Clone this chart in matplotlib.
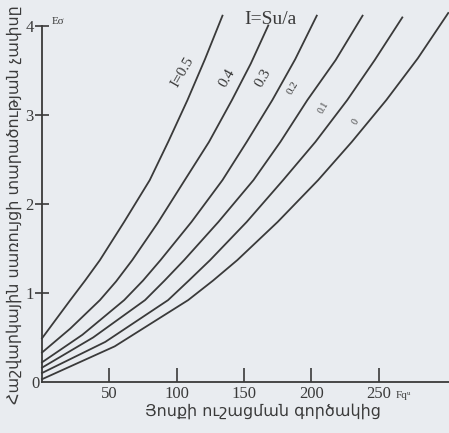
import matplotlib.pyplot as plt

# ---- data ----
labels = ["I=0.5", "0.4", "0.3", "0.2", "0.1", "0"]
x_05 = [0, 10, 21, 32, 43, 61, 80, 94, 108, 121, 134]
y_05 = [0.49, 0.695, 0.92, 1.14, 1.37, 1.80, 2.27, 2.71, 3.17, 3.63, 4.12]
x_04 = [0, 21, 43, 55, 67, 86, 106, 124, 141, 155, 168]
y_04 = [0.33, 0.60, 0.92, 1.13, 1.37, 1.79, 2.27, 2.70, 3.17, 3.58, 4.01]
x_03 = [0, 30, 61, 75, 88, 111, 134, 152, 171, 188, 204]
y_03 = [0.22, 0.53, 0.92, 1.14, 1.37, 1.80, 2.27, 2.70, 3.17, 3.63, 4.12]
x_02 = [0, 38, 76.5, 91, 105.5, 131, 157, 177, 197, 218, 238]
y_02 = [0.16, 0.50, 0.92, 1.14, 1.37, 1.80, 2.27, 2.70, 3.17, 3.62, 4.12]
x_01 = [0, 47, 93.6, 109, 124.8, 152, 179, 203, 226.6, 247, 267.5]
y_01 = [0.10, 0.45, 0.92, 1.14, 1.37, 1.80, 2.27, 2.70, 3.17, 3.62, 4.10]
x_00 = [0, 54, 108.5, 127, 145, 175, 205, 230, 255.6, 279, 301.6]
y_00 = [0.03, 0.40, 0.92, 1.14, 1.37, 1.80, 2.27, 2.70, 3.17, 3.64, 4.15]
xticks = [50, 100, 150, 200, 250]
yticks = [1, 2, 3, 4]

curves = [(x_05, y_05), (x_04, y_04), (x_03, y_03), (x_02, y_02), (x_01, y_01), (x_00, y_00)]

bg = "#e9ecf0"
ink = "#3a3a3a"
serif = "Liberation Serif"

fig = plt.figure(figsize=(4.49, 4.33), dpi=100, facecolor=bg)
ax = fig.add_axes([0.0935, 0.118, 0.906, 0.852])
ax.set_facecolor(bg)

for xs, ys in curves:
    ax.plot(xs, ys, color=ink, lw=1.3, clip_on=False, solid_joinstyle="round")

ax.set_xlim(0, 302)
ax.set_ylim(0, 4.15)
for s in ["top", "right"]:
    ax.spines[s].set_visible(False)
ax.spines["left"].set_bounds(0, 4)
ax.spines["bottom"].set_bounds(0, 302)
for s in ["left", "bottom"]:
    ax.spines[s].set_color(ink)
    ax.spines[s].set_linewidth(1.3)

ax.set_xticks(xticks)
ax.set_xticklabels([str(t) for t in xticks], fontfamily=serif, fontsize=12, color=ink)
ax.set_yticks(yticks)
ax.set_yticklabels([str(t) for t in yticks], fontfamily=serif, fontsize=12, color=ink)
ax.tick_params(axis="x", direction="in", length=10, width=1.2, color=ink, pad=3)
ax.tick_params(axis="y", direction="inout", length=10, width=1.2, color=ink, pad=1)

ax.text(-2, -0.02, "0", fontfamily=serif, fontsize=12, color=ink, ha="right", va="center")

# curve labels
lab_pos = [(183, 72), (227, 78), (263, 78), (293, 88), (324, 107), (356, 122)]
lab_size = [11, 11, 11, 8, 7, 7]
for (px, py), lab, fs in zip(lab_pos, labels, lab_size):
    ax.annotate(lab, xy=(px / 449, 1 - py / 433), xycoords="figure fraction",
                rotation=60, ha="center", va="center", fontfamily=serif,
                fontsize=fs, color=ink)

fig.text(270 / 449, 1 - 20 / 433, "I=Su/a", fontfamily=serif, fontsize=14,
         color=ink, ha="center", va="center")
fig.text(52 / 449, 1 - 22 / 433, "Eσ", fontfamily=serif, fontsize=8, color=ink,
         ha="left", va="center")
fig.text(396 / 449, 1 - 396 / 433, "Fqᵘ", fontfamily=serif, fontsize=8, color=ink,
         ha="left", va="center")

fig.text(263 / 449, 1 - 411 / 433, "Յոսքի ուշացման գործակից", fontfamily="DejaVu Sans",
         fontsize=11.5, color=ink, ha="center", va="center")
fig.text(14 / 449, 1 - 205 / 433, "Հաշվարկային սառույցի տարածության չափսը",
         fontfamily="DejaVu Sans", fontsize=11.5, color=ink, ha="center", va="center",
         rotation=90)

fig.savefig("out.png", dpi=100, facecolor=bg)
